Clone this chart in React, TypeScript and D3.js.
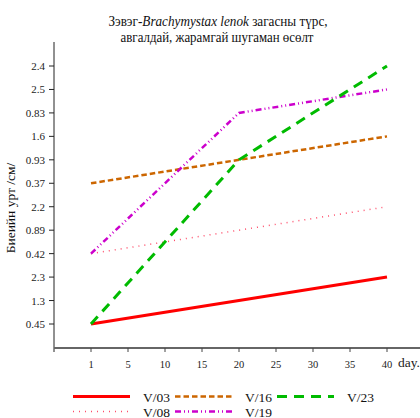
import React from "react";
import * as d3 from "d3";

const days = ["1", "5", "10", "15", "20", "25", "30", "35", "40"];
const yLabels = ["0.45", "1.3", "2.3", "0.42", "0.89", "2.2", "0.37", "0.93", "1.6", "0.83", "2.5", "2.4"];

const v03Days = ["1", "40"];
const v03Vals = ["0.45", "2.3"];
const v08Days = ["1", "40"];
const v08Vals = ["0.42", "2.2"];
const v16Days = ["1", "40"];
const v16Vals = ["0.37", "1.6"];
const v19Days = ["1", "20", "40"];
const v19Vals = ["0.42", "0.83", "2.5"];
const v23Days = ["1", "20", "40"];
const v23Vals = ["0.45", "0.93", "2.4"];

const seriesNames = ["V/03", "V/08", "V/16", "V/19", "V/23"];

const styles: Record<string, { color: string; width: number; dash: string }> = {
  "V/03": { color: "#ff0000", width: 3, dash: "" },
  "V/08": { color: "#ff4d6a", width: 1.5, dash: "1,5" },
  "V/16": { color: "#cc6600", width: 2.5, dash: "5.5,3" },
  "V/19": { color: "#cc00cc", width: 2.5, dash: "6,3,1,3,1,3" },
  "V/23": { color: "#00bb00", width: 3, dash: "10,7" },
};

const legendLayout: Record<string, { x: number; y: number }> = {
  "V/03": { x: 73, y: 396.5 },
  "V/16": { x: 175, y: 396.5 },
  "V/23": { x: 277, y: 396.5 },
  "V/08": { x: 73, y: 411.5 },
  "V/19": { x: 175, y: 411.5 },
};

const FONT = '"Liberation Serif", "DejaVu Serif", serif';

export default function App() {
  const x0 = 54;
  const yBottom = 348;
  const yTop = 42;
  const x = d3.scalePoint<string>().domain(days).range([91, 387]);
  const y = d3.scalePoint<string>().domain(yLabels).range([324, 66]);

  const data: Record<string, [string, string][]> = {
    "V/03": v03Days.map((d, i) => [d, v03Vals[i]]),
    "V/08": v08Days.map((d, i) => [d, v08Vals[i]]),
    "V/16": v16Days.map((d, i) => [d, v16Vals[i]]),
    "V/19": v19Days.map((d, i) => [d, v19Vals[i]]),
    "V/23": v23Days.map((d, i) => [d, v23Vals[i]]),
  };

  const line = d3
    .line<[string, string]>()
    .x((d) => x(d[0]) as number)
    .y((d) => y(d[1]) as number);

  const ts = (size: number): React.CSSProperties => ({ fontFamily: FONT, fontSize: size });

  return (
    <svg
      width={420}
      height={418}
      style={{ position: "absolute", left: 0, top: 0, background: "#fff", fontFamily: FONT }}
    >
      <rect x={0} y={0} width={420} height={418} fill="#fff" />
      <g transform="translate(218,25.5) scale(0.88,1)">
        <text x={0} y={0} textAnchor="middle" style={ts(15)} fill="#111">
          Зэвэг-<tspan fontStyle="italic">Brachymystax lenok</tspan> загасны түрс,
        </text>
      </g>
      <g transform="translate(217,42) scale(0.86,1)">
        <text x={0} y={0} textAnchor="middle" style={ts(15)} fill="#111">
          авгалдай, жарамгай шугаман өсөлт
        </text>
      </g>

      {/* y axis */}
      <line x1={x0} x2={x0} y1={yTop} y2={yBottom + 4} stroke="#222" strokeWidth={1} />
      {yLabels.map((l) => (
        <g key={l}>
          <line x1={x0 - 5} x2={x0} y1={y(l)} y2={y(l)} stroke="#222" strokeWidth={1} />
          <text x={45} y={(y(l) as number) + 4} textAnchor="end" style={ts(11)} fill="#222">
            {l}
          </text>
        </g>
      ))}
      <text
        transform={`translate(15,208) rotate(-90)`}
        textAnchor="middle"
        style={ts(13.5)}
        fill="#111"
      >
        Биеийн урт /см/
      </text>

      {/* x axis */}
      <line x1={x0} x2={420} y1={yBottom} y2={yBottom} stroke="#666" strokeWidth={2} />
      {days.map((d) => (
        <g key={d}>
          <line x1={x(d)} x2={x(d)} y1={yBottom} y2={yBottom + 4} stroke="#444" strokeWidth={1} />
          <text x={x(d)} y={368} textAnchor="middle" style={ts(10.5)} fill="#222">
            {d}
          </text>
        </g>
      ))}
      <text x={398} y={367} style={ts(13.5)} fill="#222">
        day.
      </text>

      {/* series */}
      {seriesNames.map((s) => (
        <path
          key={s}
          d={line(data[s]) as string}
          fill="none"
          stroke={styles[s].color}
          strokeWidth={styles[s].width}
          strokeDasharray={styles[s].dash || undefined}
        />
      ))}

      {/* legend */}
      {seriesNames.map((s) => (
        <g key={s}>
          <line
            x1={legendLayout[s].x}
            x2={legendLayout[s].x + 57}
            y1={legendLayout[s].y}
            y2={legendLayout[s].y}
            stroke={styles[s].color}
            strokeWidth={styles[s].width}
            strokeDasharray={styles[s].dash || undefined}
          />
          <text x={legendLayout[s].x + 70} y={legendLayout[s].y + 5} style={ts(13.5)} fill="#111">
            {s}
          </text>
        </g>
      ))}
    </svg>
  );
}
